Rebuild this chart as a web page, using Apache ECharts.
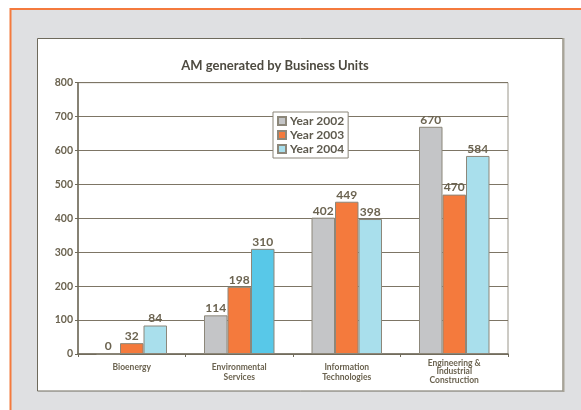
<!DOCTYPE html>
<html><head><meta charset="utf-8">
<script src="https://cdn.jsdelivr.net/npm/echarts@6/dist/echarts.min.js"></script>
<style>html,body{margin:0;padding:0;background:#fff}#c{width:581px;height:410px}</style>
</head><body><div id="c"></div>
<script>
const categories = ['Bioenergy', 'Environmental\nServices', 'Information\nTechnologies', 'Engineering &\nIndustrial\nConstruction'];
const seriesNames = ['Year 2002', 'Year 2003', 'Year 2004'];
const year2002 = [0, 114, 402, 670];
const year2003 = [32, 198, 449, 470];
const year2004 = [84, 310, 398, 584];
const yTicks = [0, 100, 200, 300, 400, 500, 600, 700, 800];

const FONT = 'Lato, "Open Sans", sans-serif';
const TXT = '#6b6350';
const colors = ['#c4c5c7', '#f47a3d', '#a9dfec'];
const highlight = '#58c8e8';

const chart = echarts.init(document.getElementById('c'), null, {renderer: 'canvas'});

function mkSeries(name, vals, idx) {
  return {
    name: name,
    type: 'bar',
    barGap: '0%',
    barWidth: 23.5,
    data: vals.map((v, i) => {
      if (idx === 2 && i === 1) return {value: v, itemStyle: {color: highlight}};
      return v;
    }),
    itemStyle: {color: colors[idx], borderColor: '#8c877a', borderWidth: 1},
    label: {show: true, position: 'top', distance: 1, fontFamily: FONT, fontSize: 12, fontWeight: 'bold', color: TXT},
    z: 3
  };
}

chart.setOption({
  animation: false,
  backgroundColor: '#fff',
  graphic: [
    {type: 'rect', z: -20, shape: {x: 11, y: 10, width: 580, height: 410}, style: {fill: '#dfe0e2'}},
    {type: 'line', z: -19, shape: {x1: 10, y1: 9, x2: 581, y2: 9}, style: {stroke: '#f47a3d', lineWidth: 2}},
    {type: 'line', z: -19, shape: {x1: 10.5, y1: 8, x2: 10.5, y2: 410}, style: {stroke: '#f47a3d', lineWidth: 2}},
    {type: 'rect', z: -18, shape: {x: 37.5, y: 38.5, width: 525.5, height: 352.5}, style: {fill: '#fff', stroke: '#6e6a5c', lineWidth: 1}},
    {type: 'line', z: -17, shape: {x1: 563.5, y1: 38, x2: 563.5, y2: 392}, style: {stroke: '#a8a498', lineWidth: 2}}
  ],
  title: {
    text: 'AM generated by Business Units',
    left: 270, textAlign: 'center', top: 54,
    textStyle: {fontFamily: FONT, fontSize: 13, fontWeight: 'bold', color: '#4d4a40'}
  },
  legend: {
    data: seriesNames,
    orient: 'vertical',
    left: 273, top: 112,
    backgroundColor: '#fff',
    borderColor: '#8a8578', borderWidth: 1,
    padding: [3, 4, 3, 4],
    itemGap: 2,
    itemWidth: 8, itemHeight: 8,
    icon: 'rect',
    textStyle: {fontFamily: FONT, fontSize: 12, fontWeight: 'bold', color: '#5e5a4e', padding: [0, 0, 0, -1]}
  },
  grid: {left: 78, right: 73, top: 82.7, bottom: 56, show: true, borderColor: '#9a968a', borderWidth: 1, backgroundColor: 'transparent'},
  xAxis: {
    type: 'category',
    data: categories.map((c, i) => i === 3 ? {value: c, textStyle: {lineHeight: 8.5, padding: [-4, 0, 0, 0]}} : c),
    axisLine: {lineStyle: {color: '#6f6a5a', width: 1.5}},
    axisTick: {show: true, length: 3, lineStyle: {color: '#6f6a5a'}},
    axisLabel: {fontFamily: FONT, fontSize: 8.5, fontWeight: 'bold', color: TXT, lineHeight: 9.5, margin: 9, interval: 0}
  },
  yAxis: {
    type: 'value',
    min: yTicks[0], max: yTicks[yTicks.length - 1], interval: 100,
    axisLine: {show: true, lineStyle: {color: '#6f6a5a', width: 1.5}},
    axisTick: {show: true, length: 3, lineStyle: {color: '#6f6a5a'}},
    splitLine: {lineStyle: {color: '#7d7565', width: 1}},
    axisLabel: {fontFamily: FONT, fontSize: 10.5, fontWeight: 'bold', color: TXT, margin: 5}
  },
  series: [mkSeries(seriesNames[0], year2002, 0), mkSeries(seriesNames[1], year2003, 1), mkSeries(seriesNames[2], year2004, 2)]
});
</script></body></html>
